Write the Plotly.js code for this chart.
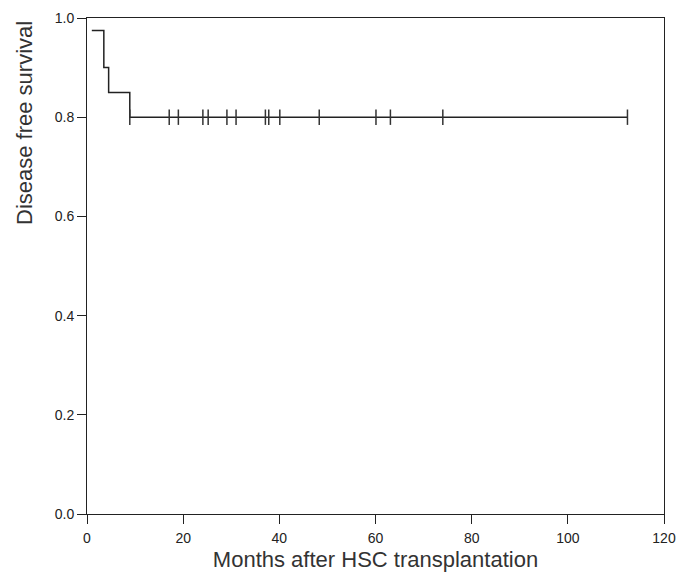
<!DOCTYPE html>
<html>
<head>
<meta charset="utf-8">
<script src="https://cdn.plot.ly/plotly-3.0.1.min.js"></script>
<style>html,body{margin:0;padding:0;background:#fff;}#chart{width:679px;height:573px;}</style>
</head>
<body>
<div id="chart"></div>
<script>
// Kaplan-Meier step curve (months, survival)
var stepTimes = [1.0, 3.5, 4.5, 8.9, 112.4];
var stepSurv  = [0.975, 0.9, 0.85, 0.8, 0.8];
// Censored observations (months) at survival 0.8
var censorTimes = [8.9, 17.1, 19.0, 24.1, 25.2, 29.1, 31.0, 37.1, 37.8, 40.1, 48.3, 60.1, 63.1, 74.0, 112.4];
var censorSurv = censorTimes.map(function(){ return 0.8; });
var xTicks = [0, 20, 40, 60, 80, 100, 120];
var yTicks = [0.0, 0.2, 0.4, 0.6, 0.8, 1.0];
var yTickText = ['0.0', '0.2', '0.4', '0.6', '0.8', '1.0'];
var xTitle = 'Months after HSC transplantation';
var yTitle = 'Disease free survival';

var traces = [
  {x: stepTimes, y: stepSurv, type: 'scatter', mode: 'lines',
   line: {shape: 'hv', color: '#222', width: 1.5}, hoverinfo: 'skip'},
  {x: censorTimes, y: censorSurv, type: 'scatter', mode: 'markers',
   marker: {symbol: 'line-ns-open', size: 11, color: '#333', line: {color: '#333', width: 1.5}}, hoverinfo: 'skip'}
];

var layout = {
  width: 679, height: 573,
  margin: {l: 87, r: 15, t: 18, b: 59},
  paper_bgcolor: '#fff', plot_bgcolor: '#fff',
  showlegend: false,
  font: {family: 'Liberation Sans, Arial, sans-serif', color: '#222', size: 14},
  xaxis: {
    range: [0, 120], tickvals: xTicks, ticks: 'outside', ticklen: 9, tickwidth: 1, tickcolor: '#222',
    ticklabelstandoff: 2,
    showgrid: false, zeroline: false, showline: true, linecolor: '#222', linewidth: 1, mirror: true,
    tickfont: {size: 14, color: '#222'},
    title: {text: xTitle, font: {size: 22, color: '#333'}, standoff: 6}
  },
  yaxis: {
    range: [0, 1], tickvals: yTicks, ticktext: yTickText, ticks: 'outside', ticklen: 9, tickwidth: 1, tickcolor: '#222',
    showgrid: false, zeroline: false, showline: true, linecolor: '#222', linewidth: 1, mirror: true,
    tickfont: {size: 14, color: '#222'}
  },
  annotations: [{
    text: yTitle, xref: 'paper', yref: 'paper', x: 0, y: 1,
    xanchor: 'center', yanchor: 'top', xshift: -63, yshift: -1,
    textangle: -90, showarrow: false, font: {size: 22, color: '#333'}
  }]
};

Plotly.newPlot('chart', traces, layout, {displayModeBar: false, staticPlot: true});
</script>
</body>
</html>
